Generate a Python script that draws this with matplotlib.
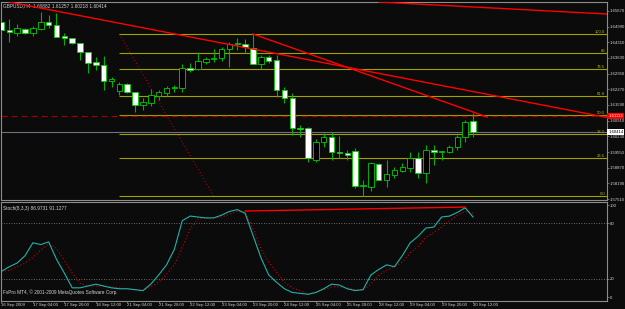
import matplotlib
matplotlib.use('Agg')
import matplotlib.pyplot as plt
import matplotlib.transforms as mtrans
import numpy as np

# GBPUSD H4 candles (open, high, low, close), 16 Sep 12:00 .. 30 Sep 12:00
opens = [1.65192, 1.64845, 1.64715, 1.64888, 1.64715, 1.64888, 1.65192, 1.65062, 1.64585, 1.64498,
         1.64281, 1.63890, 1.63456, 1.63326, 1.62632, 1.62198, 1.62501, 1.62154, 1.61590, 1.61677,
         1.61981, 1.62111, 1.62328, 1.62328, 1.63196, 1.63152, 1.63456, 1.63586, 1.63630, 1.64020,
         1.64237, 1.64237, 1.64064, 1.63369, 1.63673, 1.63543, 1.62241, 1.61894, 1.60592, 1.60592,
         1.59207, 1.59987, 1.60202, 1.59557, 1.59507, 1.59597, 1.58077, 1.58031, 1.59027, 1.58337,
         1.58557, 1.58727, 1.58857, 1.59287, 1.58647, 1.59637, 1.59557, 1.59557, 1.59767, 1.60202,
         1.60882]
highs = [1.65366, 1.65322, 1.65105, 1.64932, 1.65019, 1.65626, 1.65496, 1.65583, 1.64715, 1.64498,
         1.64281, 1.63890, 1.63673, 1.63717, 1.62805, 1.62588, 1.62545, 1.62154, 1.61894, 1.62285,
         1.62241, 1.62415, 1.62458, 1.63369, 1.63413, 1.63890, 1.63673, 1.64020, 1.64107, 1.64324,
         1.64498, 1.64454, 1.64671, 1.63760, 1.63760, 1.63760, 1.62371, 1.62111, 1.60722, 1.60635,
         1.60115, 1.60375, 1.60419, 1.60245, 1.59637, 1.59727, 1.58337, 1.59117, 1.59077, 1.59207,
         1.58897, 1.59077, 1.59557, 1.59557, 1.59857, 1.59857, 1.59597, 1.59857, 1.60288, 1.60939,
         1.61257]
lows = [1.64628, 1.64324, 1.64585, 1.64671, 1.64585, 1.64845, 1.64932, 1.64541, 1.64194, 1.64237,
        1.63543, 1.62979, 1.63109, 1.62241, 1.62371, 1.62024, 1.62111, 1.61286, 1.61373, 1.61547,
        1.61807, 1.61981, 1.62154, 1.62154, 1.63022, 1.63109, 1.63369, 1.63456, 1.63500, 1.63239,
        1.63977, 1.63847, 1.63369, 1.63152, 1.63413, 1.61937, 1.61677, 1.60288, 1.60202, 1.59117,
        1.59117, 1.59767, 1.59207, 1.59287, 1.59207, 1.57988, 1.57640, 1.57857, 1.58337, 1.58031,
        1.58427, 1.58687, 1.58687, 1.58427, 1.58207, 1.58987, 1.59207, 1.59507, 1.59637, 1.59987,
        1.60218]
closes = [1.64845, 1.64758, 1.64932, 1.64715, 1.64932, 1.65192, 1.65062, 1.64541, 1.64498, 1.64281,
          1.63890, 1.63413, 1.63326, 1.62632, 1.62718, 1.62501, 1.62154, 1.61590, 1.61720, 1.62024,
          1.62154, 1.62328, 1.62371, 1.63196, 1.63109, 1.63500, 1.63586, 1.63630, 1.64020, 1.64237,
          1.64281, 1.64107, 1.63369, 1.63673, 1.63500, 1.62241, 1.61894, 1.60592, 1.60548, 1.59287,
          1.59987, 1.60202, 1.59557, 1.59507, 1.59417, 1.58077, 1.58117, 1.59077, 1.58337, 1.58597,
          1.58767, 1.58897, 1.59287, 1.58647, 1.59637, 1.59557, 1.59597, 1.59767, 1.60202, 1.60852,
          1.60414]

# Stochastic(8,3,3)
stoch_main = [28, 33, 37, 45, 59, 57, 60, 41, 26, 10,
              10, 12, 14, 12, 10, 9, 9, 8, 7, 14,
              24, 35, 52, 83, 88, 87, 86, 86, 89, 93,
              95, 91, 67, 43, 24, 16, 9, 5, 4, 3,
              5, 9, 14, 13, 9, 7, 8, 24, 30, 35,
              33, 45, 59, 66, 75, 76, 87, 88, 92, 97,
              86.9731]
stoch_signal = [28, 29, 33, 37, 43, 51, 58, 53, 40, 26,
                15, 12, 12, 12, 11, 10, 9, 8, 7, 11,
                16, 25, 35, 54, 74, 85, 86, 86, 87, 90,
                93, 92, 75, 53, 38, 27, 16, 10, 7, 3,
                5, 8, 11, 11, 10, 8, 8, 14, 24, 29,
                33, 38, 48, 55, 65, 70, 76, 83, 89, 93,
                91.1277]

time_tick_bars = [0, 4, 8, 12, 16, 20, 24, 28, 32, 36, 40, 44, 48, 52, 56, 60]
time_tick_labels = ["16 Sep 2009", "17 Sep 04:00", "17 Sep 20:00", "18 Sep 12:00",
                    "21 Sep 04:00", "21 Sep 20:00", "22 Sep 12:00", "23 Sep 04:00",
                    "23 Sep 20:00", "24 Sep 12:00", "25 Sep 04:00", "25 Sep 20:00",
                    "28 Sep 12:00", "29 Sep 04:00", "29 Sep 20:00", "30 Sep 12:00"]
price_ticks = [1.65670, 1.64990, 1.64310, 1.63630, 1.62950, 1.62270, 1.61590,
               1.60910, 1.60230, 1.59550, 1.58870, 1.58190, 1.57510]

# Fibonacci retracement
fib_bars = [15, 27]
fib_high = 1.64671
fib_low = 1.57640
fib_levels = [0.0, 23.6, 38.2, 50.0, 61.8, 78.6, 88.0, 100.0]
fib_names = ["0.0", "23.6", "38.2", "50.0", "61.8", "78.6", "88", "100.0"]

# trendlines: (bar, price) anchors
trend1 = [(1, 1.66060), (60, 1.62172)]     # ray
trend2 = [(32, 1.64671), (61.8, 1.61069)]  # segment
trend3 = [(48, 1.66060), (77, 1.65539)]    # ray
hline_price = 1.61113
bid_price = 1.60414
stoch_trend = [(31, 93.5), (59, 97.8)]

BG = '#0b0b0b'
TXT = '#d4d4d4'
FS = 3.4
AXFS = 3.05
plt.rcParams['font.family'] = ['Liberation Sans', 'DejaVu Sans']

fig = plt.figure(figsize=(6.25, 3.09), dpi=100, facecolor=BG)
ax = fig.add_axes([1/625, 109/309, 606/625, 198/309], facecolor=BG)
ax2 = fig.add_axes([1/625, 8/309, 606/625, 99/309], facecolor=BG)

x = np.arange(len(opens))
o = np.array(opens); c = np.array(closes)
xmax = 77.04

# candles
ax.vlines(x, lows, highs, color='#00b000', linewidth=0.8, zorder=2)
fills = ['white' if cc < oo else 'black' for oo, cc in zip(o, c)]
ax.bar(x, np.abs(c - o), bottom=np.minimum(o, c), width=0.7, color=fills,
       edgecolor='#00d000', linewidth=0.6, zorder=3)

# fibo
fx = np.array(fib_bars)
ax.plot(fx, [fib_high, fib_low], color='#b00000', linestyle=(0, (1, 2)), linewidth=0.8, zorder=1)
for lvl, name in zip(fib_levels, fib_names):
    p = fib_low + (fib_high - fib_low) * lvl / 100.0
    ax.hlines(p, fib_bars[0], xmax, color='#a0a000', linewidth=0.8, zorder=1)
    ax.text(76.8, p, name, color='#b8b800', fontsize=3.0, ha='right', va='bottom', zorder=5)

# horizontal lines
ax.axhline(hline_price, color='#a00000', linestyle=(0, (5, 3)), linewidth=0.9, zorder=1)
ax.axhline(bid_price, color='#707080', linewidth=0.8, zorder=1)


def ray(a, b, extend):
    (x0, y0), (x1, y1) = a, b
    if extend:
        y1 = y0 + (y1 - y0) / (x1 - x0) * (xmax - x0)
        x1 = xmax
    return [x0, x1], [y0, y1]


for pts, ext in [(trend1, True), (trend2, False), (trend3, True)]:
    xs, ys = ray(pts[0], pts[1], ext)
    ax.plot(xs, ys, color='#ff0000', linewidth=1.0, zorder=4)

ax.set_xlim(-0.06, xmax)
ax.set_ylim(1.57467, 1.66060)
ax.set_xticks([])
ax.yaxis.tick_right()
ax.set_yticks(price_ticks)
ax.set_yticklabels([f"{p:.5f}" for p in price_ticks])
ax.tick_params(axis='y', colors='#909090', labelcolor=TXT, labelsize=AXFS, length=1.5, pad=0.5, width=0.5)

tr = mtrans.blended_transform_factory(ax.transAxes, ax.transData)
ax.text(1.002, hline_price, f"{hline_price:.5f}", transform=tr, color='white', fontsize=AXFS,
        ha='left', va='center', zorder=6, clip_on=False,
        bbox=dict(boxstyle='square,pad=0.2', fc='#ff0000', ec='none'))
ax.text(1.002, bid_price, f"{bid_price:.5f}", transform=tr, color='black', fontsize=AXFS,
        ha='left', va='center', zorder=6, clip_on=False,
        bbox=dict(boxstyle='square,pad=0.2', fc='white', ec='none'))

ax.text(0.004, 0.995, "GBPUSD,H4  1.60882 1.61257 1.60218 1.60414", transform=ax.transAxes,
        color=TXT, fontsize=FS, ha='left', va='top')

# stochastic
ax2.plot(x, stoch_main, color='#20b2aa', linewidth=0.8, zorder=3)
ax2.plot(x, stoch_signal, color='#d00000', linestyle=(0, (1, 2)), linewidth=0.8, zorder=2)
ax2.axhline(80, color='#8a8a8a', linestyle=(0, (1, 2)), linewidth=0.6)
ax2.axhline(20, color='#8a8a8a', linestyle=(0, (1, 2)), linewidth=0.6)
sx, sy = ray(stoch_trend[0], stoch_trend[1], False)
ax2.plot(sx, sy, color='#ff0000', linewidth=1.0, zorder=4)
ax2.set_xlim(-0.06, xmax)
ax2.set_ylim(-4.3, 103.3)
ax2.yaxis.tick_right()
ax2.set_yticks([0, 20, 80, 100])
ax2.set_yticklabels(['0', '20', '80', '100'])
ax2.tick_params(axis='y', colors='#909090', labelcolor=TXT, labelsize=AXFS, length=1.5, pad=0.5, width=0.5)
ax2.set_xticks(time_tick_bars)
ax2.set_xticklabels(time_tick_labels, ha='left')
ax2.tick_params(axis='x', colors='#909090', labelcolor=TXT, labelsize=AXFS, length=1.5, pad=0.2, width=0.5)
ax2.text(0.004, 0.96, "Stoch(8,3,3) 86.9731 91.1277", transform=ax2.transAxes,
         color=TXT, fontsize=FS, ha='left', va='top')
ax2.text(0.004, 0.06, "FxPro MT4, \u00a9 2001-2009 MetaQuotes Software Corp.", transform=ax2.transAxes,
         color=TXT, fontsize=FS, ha='left', va='bottom')

for a in (ax, ax2):
    for s in a.spines.values():
        s.set_color('#8c8c8c')
        s.set_linewidth(0.8)

fig.savefig('out.png', dpi=100, facecolor=BG)
